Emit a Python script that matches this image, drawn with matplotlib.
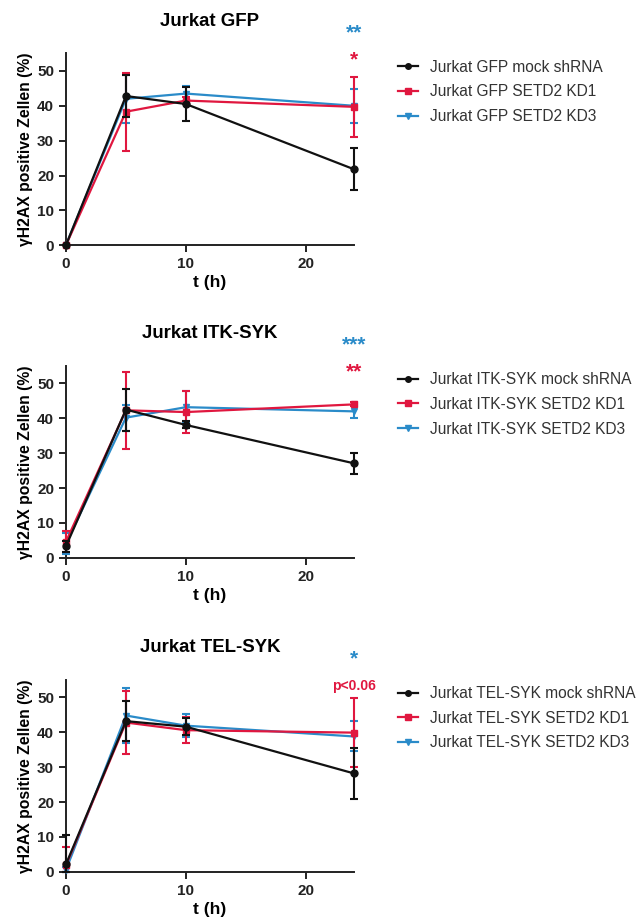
import matplotlib
matplotlib.use("Agg")
import matplotlib.pyplot as plt
from matplotlib.lines import Line2D

plt.rcParams["font.family"] = ["Liberation Sans", "DejaVu Sans"]

# time points (h)
t_hours = [0, 5, 10, 24]

# Jurkat GFP
gfp_mock = [0.0, 42.8, 40.5, 21.8]
gfp_mock_err = [0.0, 6.0, 5.0, 6.0]
gfp_kd1 = [0.0, 38.3, 41.5, 39.7]
gfp_kd1_err = [0.0, 11.2, 1.0, 8.6]
gfp_kd3 = [0.0, 42.0, 43.5, 40.0]
gfp_kd3_err = [0.0, 6.8, 2.2, 4.8]

# Jurkat ITK-SYK
itk_mock = [3.3, 42.5, 38.1, 27.1]
itk_mock_err = [1.5, 6.0, 1.0, 3.0]
itk_kd1 = [4.6, 42.3, 41.8, 44.0]
itk_kd1_err = [3.0, 11.0, 6.0, 0.6]
itk_kd3 = [4.0, 40.2, 43.2, 42.0]
itk_kd3_err = [3.0, 3.7, 4.5, 1.8]

# Jurkat TEL-SYK
tel_mock = [2.1, 43.2, 41.6, 28.2]
tel_mock_err = [8.5, 5.7, 2.5, 7.2]
tel_kd1 = [1.8, 42.8, 40.6, 39.9]
tel_kd1_err = [5.4, 8.9, 3.7, 9.8]
tel_kd3 = [0.5, 44.8, 41.9, 38.8]
tel_kd3_err = [1.0, 8.0, 3.3, 4.3]

panel_names = ["Jurkat GFP", "Jurkat ITK-SYK", "Jurkat TEL-SYK"]
sig_kd3 = ["**", "***", "*"]
sig_kd1 = ["*", "**", "p<0.06"]

BLACK = "#111111"
RED = "#E0173F"
BLUE = "#2A8BC9"


def draw_panel(ax, name, mock, mock_err, kd1, kd1_err, kd3, kd3_err, star3, star1):
    series = [
        (kd3, kd3_err, BLUE, "v", 3),
        (kd1, kd1_err, RED, "s", 4),
        (mock, mock_err, BLACK, "o", 5),
    ]
    for values, errors, color, marker, z in series:
        # bars are cut at the x axis, like in the original graph
        lower = [min(e, v) for v, e in zip(values, errors)]
        _, caps, bars = ax.errorbar(
            t_hours,
            values,
            yerr=[lower, errors],
            color=color,
            marker=marker,
            markersize=5,
            linewidth=1.6,
            elinewidth=1.5,
            capsize=3,
            capthick=1.5,
            zorder=z,
            clip_on=False,
        )
        for c in caps:
            c.set_clip_on(False)
        for b in bars:
            b.set_clip_on(False)

    handles = [
        Line2D([], [], color=BLACK, marker="o", markersize=4, linewidth=1.6),
        Line2D([], [], color=RED, marker="s", markersize=4, linewidth=1.6),
        Line2D([], [], color=BLUE, marker="v", markersize=4, linewidth=1.6),
    ]
    labels = [f"{name} mock shRNA", f"{name} SETD2 KD1", f"{name} SETD2 KD3"]
    ax.legend(
        handles,
        labels,
        loc="center left",
        bbox_to_anchor=(1.11, 0.80),
        frameon=False,
        fontsize=11.2,
        handlelength=1.3,
        handletextpad=0.75,
        labelspacing=0.62,
        labelcolor="#333333",
        borderpad=0.3,
    )

    ax.text(24, 61.0, star3, color=BLUE, ha="center", va="center",
            fontsize=15, fontweight="bold", clip_on=False)
    ax.text(24, 53.2, star1, color=RED, ha="center", va="center",
            fontsize=15 if star1.startswith("*") else 10,
            fontweight="bold", clip_on=False)

    ax.set_xlim(0, 24)
    ax.set_ylim(0, 55)
    ax.set_xticks([0, 10, 20])
    ax.set_yticks([0, 10, 20, 30, 40, 50])
    ax.spines["top"].set_visible(False)
    ax.spines["right"].set_visible(False)
    for side in ("left", "bottom"):
        ax.spines[side].set_linewidth(1.4)
        ax.spines[side].set_color("#222222")
    ax.tick_params(width=1.4, length=5, labelsize=11, colors="#222222")
    for lbl in ax.get_xticklabels() + ax.get_yticklabels():
        lbl.set_fontweight("bold")
    ax.set_xlabel("t (h)", fontsize=12.5, fontweight="bold", labelpad=3)
    ax.set_ylabel("γH2AX positive Zellen (%)", fontsize=11.3, fontweight="bold", labelpad=3)
    ax.set_title(name, fontsize=13.4, fontweight="bold", pad=20)


fig = plt.figure(figsize=(6.4, 9.22), dpi=100)
positions = [
    [0.103, 0.734, 0.450, 0.208],
    [0.103, 0.395, 0.450, 0.208],
    [0.103, 0.0545, 0.450, 0.208],
]
panel_data = [
    (gfp_mock, gfp_mock_err, gfp_kd1, gfp_kd1_err, gfp_kd3, gfp_kd3_err),
    (itk_mock, itk_mock_err, itk_kd1, itk_kd1_err, itk_kd3, itk_kd3_err),
    (tel_mock, tel_mock_err, tel_kd1, tel_kd1_err, tel_kd3, tel_kd3_err),
]
for i, pos in enumerate(positions):
    ax = fig.add_axes(pos)
    draw_panel(ax, panel_names[i], *panel_data[i], sig_kd3[i], sig_kd1[i])

fig.savefig("out.png", dpi=100)
